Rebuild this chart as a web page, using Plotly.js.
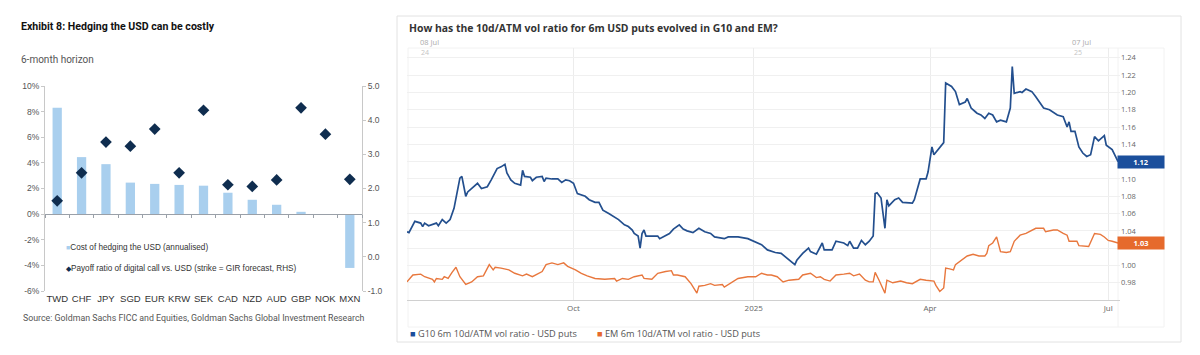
<!DOCTYPE html>
<html>
<head>
<meta charset="utf-8">
<script src="https://cdn.plot.ly/plotly-3.0.1.min.js"></script>
<style>
  html, body { margin: 0; padding: 0; background: #fff; }
  #chart { width: 1200px; height: 355px; }
</style>
</head>
<body>
<div id="chart"></div>
<script>
// ---------- Left panel data ----------
const currencies = ["TWD","CHF","JPY","SGD","EUR","KRW","SEK","CAD","NZD","AUD","GBP","NOK","MXN"];
const hedgeCost = [8.3, 4.45, 3.9, 2.46, 2.36, 2.28, 2.22, 1.67, 1.12, 0.73, 0.18, 0.0, -4.2];
const payoffRatio = [1.64, 2.46, 3.36, 3.24, 3.74, 2.46, 4.29, 2.11, 2.06, 2.25, 4.36, 3.59, 2.27];
const leftTicks = [-6, -4, -2, 0, 2, 4, 6, 8, 10];
const rightTicks = [-1, 0, 1, 2, 3, 4, 5];

// ---------- Right panel data ----------
const g10Dates = ["2024-07-08","2024-07-09","2024-07-12","2024-07-15","2024-07-16","2024-07-17","2024-07-19","2024-07-23","2024-07-24","2024-07-26","2024-07-28","2024-07-30",
"2024-08-01","2024-08-04","2024-08-05","2024-08-07","2024-08-08","2024-08-10","2024-08-13","2024-08-15","2024-08-18","2024-08-20","2024-08-23","2024-08-25","2024-08-27","2024-08-28","2024-08-30",
"2024-09-01","2024-09-04","2024-09-05","2024-09-06","2024-09-09","2024-09-10","2024-09-12","2024-09-15","2024-09-16","2024-09-17","2024-09-20","2024-09-23","2024-09-25","2024-09-27","2024-09-29",
"2024-10-01","2024-10-03","2024-10-07","2024-10-09","2024-10-12","2024-10-14","2024-10-16","2024-10-19","2024-10-22","2024-10-24","2024-10-27","2024-10-29","2024-10-31",
"2024-11-01","2024-11-03","2024-11-04","2024-11-05","2024-11-06","2024-11-07","2024-11-10","2024-11-13","2024-11-14","2024-11-17","2024-11-19","2024-11-21","2024-11-24","2024-11-26","2024-11-28",
"2024-12-01","2024-12-04","2024-12-07","2024-12-10","2024-12-12","2024-12-17","2024-12-19","2024-12-24","2024-12-29",
"2025-01-01","2025-01-05","2025-01-08","2025-01-12","2025-01-15","2025-01-18","2025-01-20","2025-01-22","2025-01-23","2025-01-26","2025-01-29","2025-01-30",
"2025-02-02","2025-02-05","2025-02-06","2025-02-10","2025-02-12","2025-02-16","2025-02-18","2025-02-19","2025-02-21","2025-02-23","2025-02-25","2025-02-27",
"2025-03-01","2025-03-03","2025-03-04","2025-03-05","2025-03-07","2025-03-09","2025-03-10","2025-03-11","2025-03-14","2025-03-16","2025-03-18","2025-03-23","2025-03-24","2025-03-27","2025-03-30","2025-03-31",
"2025-04-02","2025-04-03","2025-04-08","2025-04-09","2025-04-12","2025-04-14","2025-04-16","2025-04-19","2025-04-20","2025-04-22","2025-04-24","2025-04-25","2025-04-27","2025-04-29",
"2025-05-01","2025-05-03","2025-05-05","2025-05-07","2025-05-10","2025-05-12","2025-05-13","2025-05-14","2025-05-17","2025-05-18","2025-05-20","2025-05-23","2025-05-25","2025-05-27","2025-05-29",
"2025-06-01","2025-06-05","2025-06-08","2025-06-10","2025-06-11","2025-06-12","2025-06-14","2025-06-16","2025-06-18","2025-06-20","2025-06-22","2025-06-24","2025-06-26","2025-06-29","2025-06-30",
"2025-07-03","2025-07-06"];
const g10Ratio = [1.039,1.038,1.051,1.049,1.045,1.049,1.046,1.049,1.046,1.053,1.049,1.053,
1.066,1.101,1.103,1.080,1.085,1.089,1.095,1.089,1.091,1.099,1.112,1.114,1.117,1.107,1.099,
1.095,1.093,1.110,1.103,1.102,1.098,1.102,1.103,1.097,1.101,1.100,1.100,1.096,1.099,1.098,
1.095,1.083,1.080,1.076,1.073,1.073,1.064,1.060,1.056,1.053,1.047,1.045,1.041,
1.037,1.034,1.020,1.037,1.041,1.034,1.034,1.034,1.031,1.035,1.037,1.042,1.047,1.042,1.040,
1.038,1.043,1.039,1.037,1.033,1.031,1.033,1.033,1.031,
1.028,1.024,1.018,1.015,1.014,1.008,1.004,1.001,1.006,1.014,1.020,1.016,
1.013,1.026,1.018,1.018,1.028,1.026,1.023,1.028,1.020,1.020,1.029,1.024,
1.028,1.034,1.083,1.084,1.078,1.043,1.076,1.069,1.076,1.078,1.073,1.072,1.076,1.100,1.100,1.108,
1.137,1.128,1.142,1.211,1.207,1.201,1.186,1.189,1.193,1.182,1.178,1.176,1.174,1.170,
1.176,1.174,1.166,1.168,1.166,1.182,1.230,1.199,1.201,1.200,1.204,1.201,1.195,1.189,1.182,
1.180,1.174,1.172,1.160,1.166,1.155,1.155,1.137,1.130,1.126,1.128,1.149,1.144,1.150,1.139,
1.134,1.120];

const emDates = ["2024-07-08","2024-07-11","2024-07-15","2024-07-17","2024-07-21","2024-07-22","2024-07-23","2024-07-26","2024-07-27","2024-07-29","2024-07-31",
"2024-08-02","2024-08-04","2024-08-07","2024-08-10","2024-08-13","2024-08-16","2024-08-19","2024-08-21","2024-08-22","2024-08-25","2024-08-29",
"2024-09-01","2024-09-05","2024-09-07","2024-09-10","2024-09-15","2024-09-17","2024-09-20","2024-09-23","2024-09-26","2024-09-28",
"2024-10-02","2024-10-05","2024-10-08","2024-10-12","2024-10-17","2024-10-22","2024-10-23","2024-10-26","2024-10-29",
"2024-11-01","2024-11-05","2024-11-06","2024-11-10","2024-11-13","2024-11-17","2024-11-20","2024-11-21","2024-11-23","2024-11-27","2024-11-30",
"2024-12-03","2024-12-04","2024-12-07","2024-12-10","2024-12-12","2024-12-16","2024-12-17","2024-12-21","2024-12-24","2024-12-29",
"2025-01-02","2025-01-05","2025-01-08","2025-01-10","2025-01-13","2025-01-16","2025-01-19","2025-01-24","2025-01-26","2025-01-30",
"2025-02-02","2025-02-04","2025-02-06","2025-02-09","2025-02-12","2025-02-16","2025-02-19","2025-02-21","2025-02-24","2025-02-27",
"2025-03-01","2025-03-03","2025-03-04","2025-03-06","2025-03-09","2025-03-10","2025-03-13","2025-03-17","2025-03-20","2025-03-23","2025-03-27","2025-03-30",
"2025-04-03","2025-04-04","2025-04-06","2025-04-08","2025-04-09","2025-04-11","2025-04-13","2025-04-14","2025-04-17","2025-04-20","2025-04-23","2025-04-26","2025-04-29","2025-04-30",
"2025-05-01","2025-05-03","2025-05-05","2025-05-07","2025-05-10","2025-05-12","2025-05-14","2025-05-17","2025-05-20","2025-05-23","2025-05-25","2025-05-29","2025-05-30",
"2025-06-03","2025-06-05","2025-06-08","2025-06-10","2025-06-11","2025-06-15","2025-06-16","2025-06-21","2025-06-24","2025-06-27","2025-06-29",
"2025-07-01","2025-07-03","2025-07-06"];
const emRatio = [0.981,0.989,0.990,0.987,0.984,0.981,0.985,0.984,0.987,0.985,0.992,
0.998,0.987,0.978,0.981,0.987,0.988,1.001,0.995,0.998,0.997,0.995,
0.991,0.988,0.990,0.987,0.993,1.001,1.003,1.001,1.003,0.999,
0.995,0.991,0.988,0.985,0.984,0.985,0.982,0.985,0.984,
0.987,0.989,0.985,0.984,0.991,0.993,0.994,0.989,0.989,0.987,0.979,
0.968,0.976,0.977,0.979,0.977,0.978,0.975,0.981,0.985,0.987,
0.987,0.991,0.989,0.989,0.987,0.981,0.983,0.984,0.989,0.991,
0.986,0.987,0.984,0.982,0.989,0.990,0.991,0.988,0.990,0.983,
0.981,0.981,0.992,0.983,0.968,0.983,0.980,0.982,0.980,0.979,0.984,0.983,
0.982,0.977,0.970,0.974,0.997,0.996,0.995,1.001,1.006,1.011,1.013,1.011,1.011,1.014,
1.023,1.026,1.033,1.016,1.015,1.016,1.028,1.035,1.037,1.041,1.043,1.043,1.039,
1.041,1.041,1.037,1.035,1.028,1.028,1.023,1.022,1.037,1.036,1.033,
1.029,1.028,1.026];

const dateTickVals = ["2024-10-01","2025-01-01","2025-04-01","2025-07-01"];
const dateTickText = ["Oct","2025","Apr","Jul"];
const ratioTicks = [0.98,1.00,1.02,1.04,1.06,1.08,1.10,1.12,1.14,1.16,1.18,1.20,1.22,1.24];

// ---------- Styles ----------
const W = 1200, H = 355;
const px = x => x / W;
const py = y => 1 - y / H;
const COND = "Roboto, Liberation Sans, Arial, sans-serif";
const ARIAL = "Liberation Sans, Arial, sans-serif";
const OPEN = "Open Sans, Noto Sans, sans-serif";
const BAR_COLOR = "#a9cfee";
const DIAMOND_COLOR = "#0f2d4f";
const BLUE = "#234f8e";
const ORANGE = "#e8773d";
const BLUE_BOX = "#1b4f9c";
const ORANGE_BOX = "#e66a2c";

const leftYDomain = [py(291), py(86)];
const leftYRange = [-6, 10];
const zeroPos = leftYDomain[0] + (0 - leftYRange[0]) / (leftYRange[1] - leftYRange[0]) * (leftYDomain[1] - leftYDomain[0]);

const lastG10 = g10Ratio[g10Ratio.length - 1];
const lastEM = emRatio[emRatio.length - 1];
// tick labels hidden behind the last-value boxes (as in the reference)
const hiddenTick = v => Math.abs(v - lastG10) < 0.01 || Math.abs(v - lastEM) < 0.01;

const traces = [
  {
    type: "bar", x: currencies, y: hedgeCost, xaxis: "x", yaxis: "y",
    marker: { color: BAR_COLOR }, width: 0.38, hoverinfo: "skip", showlegend: false
  },
  {
    type: "bar", x: currencies, y: hedgeCost, xaxis: "x3", yaxis: "y",
    marker: { color: "rgba(0,0,0,0)" }, width: 0.38, hoverinfo: "skip", showlegend: false
  },
  {
    type: "scatter", mode: "markers", x: currencies, y: payoffRatio, xaxis: "x", yaxis: "y2",
    marker: { symbol: "diamond", size: 9, color: DIAMOND_COLOR }, hoverinfo: "skip", showlegend: false
  },
  {
    type: "scatter", mode: "lines", x: g10Dates, y: g10Ratio, xaxis: "x2", yaxis: "y3",
    line: { color: BLUE, width: 1.7 }, hoverinfo: "skip", showlegend: false
  },
  {
    type: "scatter", mode: "lines", x: emDates, y: emRatio, xaxis: "x2", yaxis: "y3",
    line: { color: ORANGE, width: 1.4 }, hoverinfo: "skip", showlegend: false
  }
];

const layout = {
  width: W, height: H,
  margin: { l: 0, r: 0, t: 0, b: 0 },
  paper_bgcolor: "#fff", plot_bgcolor: "rgba(0,0,0,0)",
  showlegend: false,
  // Left chart axes
  xaxis: {
    domain: [px(45), px(362)], anchor: "y", type: "category",
    categoryarray: currencies, range: [-0.5, 12.5],
    showline: false, ticks: "", showgrid: false, zeroline: false,
    tickfont: { family: ARIAL, size: 9.5, color: "#333" }
  },
  xaxis3: {
    domain: [px(45), px(362)], anchor: "free", position: zeroPos, overlaying: "x",
    type: "category", categoryarray: currencies, range: [-0.5, 12.5],
    showline: true, linecolor: "#9aa0a8", linewidth: 1,
    ticks: "outside", ticklen: 3, tickcolor: "#9aa0a8", tickson: "boundaries",
    showticklabels: false, showgrid: false, zeroline: false
  },
  yaxis: {
    domain: leftYDomain, anchor: "x", range: leftYRange,
    tickvals: leftTicks, ticktext: leftTicks.map(v => v + "%"),
    showline: true, linecolor: "#c8c8c8", ticks: "outside", ticklen: 3, tickcolor: "#c8c8c8",
    showgrid: false, zeroline: false,
    tickfont: { family: ARIAL, size: 8.5, color: "#555" }
  },
  yaxis2: {
    domain: leftYDomain, anchor: "x", overlaying: "y", side: "right", range: [-1, 5],
    tickvals: rightTicks, ticktext: rightTicks.map(v => v.toFixed(1)),
    showline: true, linecolor: "#c8c8c8", ticks: "outside", ticklen: 3, tickcolor: "#c8c8c8",
    showgrid: false, zeroline: false,
    tickfont: { family: ARIAL, size: 8.5, color: "#555" }
  },
  // Right chart axes
  xaxis2: {
    domain: [px(407), px(1120)], anchor: "y3", type: "date",
    range: ["2024-07-08", "2025-07-07"],
    tickvals: dateTickVals, ticktext: dateTickText, ticks: "",
    showgrid: true, gridcolor: "#ececec", gridwidth: 1,
    showline: true, linecolor: "#d0d0d0", zeroline: false,
    tickfont: { family: OPEN, size: 8, color: "#666" }
  },
  yaxis3: {
    domain: [py(300), py(48)], anchor: "x2", side: "right",
    range: [0.9601, 1.2514],
    tickvals: ratioTicks, ticktext: ratioTicks.map(v => hiddenTick(v) ? "" : v.toFixed(2)),
    ticks: "", showgrid: true, gridcolor: "#f0f0f0", zeroline: false, showline: false,
    tickfont: { family: OPEN, size: 7.5, color: "#666" }
  },
  shapes: [
    { type: "rect", xref: "paper", yref: "paper", x0: px(397), x1: px(1181), y0: py(342), y1: py(16),
      line: { color: "#e2e2e2", width: 1 }, fillcolor: "rgba(0,0,0,0)", layer: "below" },
    { type: "rect", xref: "paper", yref: "paper", x0: px(408), x1: px(1164), y0: py(327), y1: py(48),
      line: { color: "#f2f2f2", width: 1 }, fillcolor: "rgba(0,0,0,0)", layer: "below" },
    { type: "line", xref: "paper", yref: "paper", x0: px(1118), x1: px(1118), y0: py(327), y1: py(48),
      line: { color: "#f2f2f2", width: 1 }, layer: "below" }
  ],
  annotations: [
    // Left panel text
    { xref: "paper", yref: "paper", x: px(19), y: py(26), xanchor: "left", yanchor: "middle", showarrow: false,
      text: "<b>Exhibit 8: Hedging the USD can be costly</b>", font: { family: COND, size: 10.6, color: "#111" } },
    { xref: "paper", yref: "paper", x: px(19), y: py(59), xanchor: "left", yanchor: "middle", showarrow: false,
      text: "6-month horizon", font: { family: COND, size: 10, color: "#555" } },
    { xref: "paper", yref: "paper", x: px(64), y: py(247), xanchor: "left", yanchor: "middle", showarrow: false,
      text: "<span style='color:" + BAR_COLOR + ";font-size:7px'>■</span>Cost of hedging the USD (annualised)",
      font: { family: ARIAL, size: 8.2, color: "#333" } },
    { xref: "paper", yref: "paper", x: px(64), y: py(268), xanchor: "left", yanchor: "middle", showarrow: false,
      text: "<span style='color:" + DIAMOND_COLOR + ";font-size:7px'>◆</span>Payoff ratio of digital call vs. USD (strike = GIR forecast, RHS)",
      font: { family: ARIAL, size: 8.2, color: "#333" } },
    { xref: "paper", yref: "paper", x: px(21), y: py(318), xanchor: "left", yanchor: "middle", showarrow: false,
      text: "Source: Goldman Sachs FICC and Equities, Goldman Sachs Global Investment Research",
      font: { family: COND, size: 8.8, color: "#555" } },
    // Right panel text
    { xref: "paper", yref: "paper", x: px(407), y: py(28), xanchor: "left", yanchor: "middle", showarrow: false,
      text: "<b>How has the 10d/ATM vol ratio for 6m USD puts evolved in G10 and EM?</b>",
      font: { family: OPEN, size: 10.4, color: "#333" } },
    { xref: "paper", yref: "paper", x: px(418), y: py(42), xanchor: "left", yanchor: "middle", showarrow: false,
      text: "08 Jul", font: { family: OPEN, size: 7.5, color: "#aaa" } },
    { xref: "paper", yref: "paper", x: px(419), y: py(52), xanchor: "left", yanchor: "middle", showarrow: false,
      text: "24", font: { family: OPEN, size: 7, color: "#c4c4c4" } },
    { xref: "paper", yref: "paper", x: px(1070), y: py(42), xanchor: "left", yanchor: "middle", showarrow: false,
      text: "07 Jul", font: { family: OPEN, size: 7.5, color: "#aaa" } },
    { xref: "paper", yref: "paper", x: px(1072), y: py(52), xanchor: "left", yanchor: "middle", showarrow: false,
      text: "25", font: { family: OPEN, size: 7, color: "#c4c4c4" } },
    { xref: "paper", yref: "paper", x: px(408), y: py(333), xanchor: "left", yanchor: "middle", showarrow: false,
      text: "<span style='color:" + BLUE_BOX + "'>■</span> G10 6m 10d/ATM vol ratio - USD puts",
      font: { family: OPEN, size: 9.2, color: "#555" } },
    { xref: "paper", yref: "paper", x: px(595), y: py(333), xanchor: "left", yanchor: "middle", showarrow: false,
      text: "<span style='color:" + ORANGE_BOX + "'>■</span> EM 6m 10d/ATM vol ratio - USD puts",
      font: { family: OPEN, size: 9.2, color: "#555" } },
    // Last-value boxes
    { xref: "paper", yref: "y3", x: px(1141), y: lastG10, xanchor: "center", yanchor: "middle", showarrow: false,
      text: "<b>" + lastG10.toFixed(2) + "</b>", bgcolor: BLUE_BOX, width: 44, height: 10, borderpad: 1,
      font: { family: OPEN, size: 7.5, color: "#fff" } },
    { xref: "paper", yref: "y3", x: px(1141), y: lastEM, xanchor: "center", yanchor: "middle", showarrow: false,
      text: "<b>" + lastEM.toFixed(2) + "</b>", bgcolor: ORANGE_BOX, width: 44, height: 10, borderpad: 1,
      font: { family: OPEN, size: 7.5, color: "#fff" } }
  ]
};

Plotly.newPlot("chart", traces, layout, { displayModeBar: false, staticPlot: true });
</script>
</body>
</html>
